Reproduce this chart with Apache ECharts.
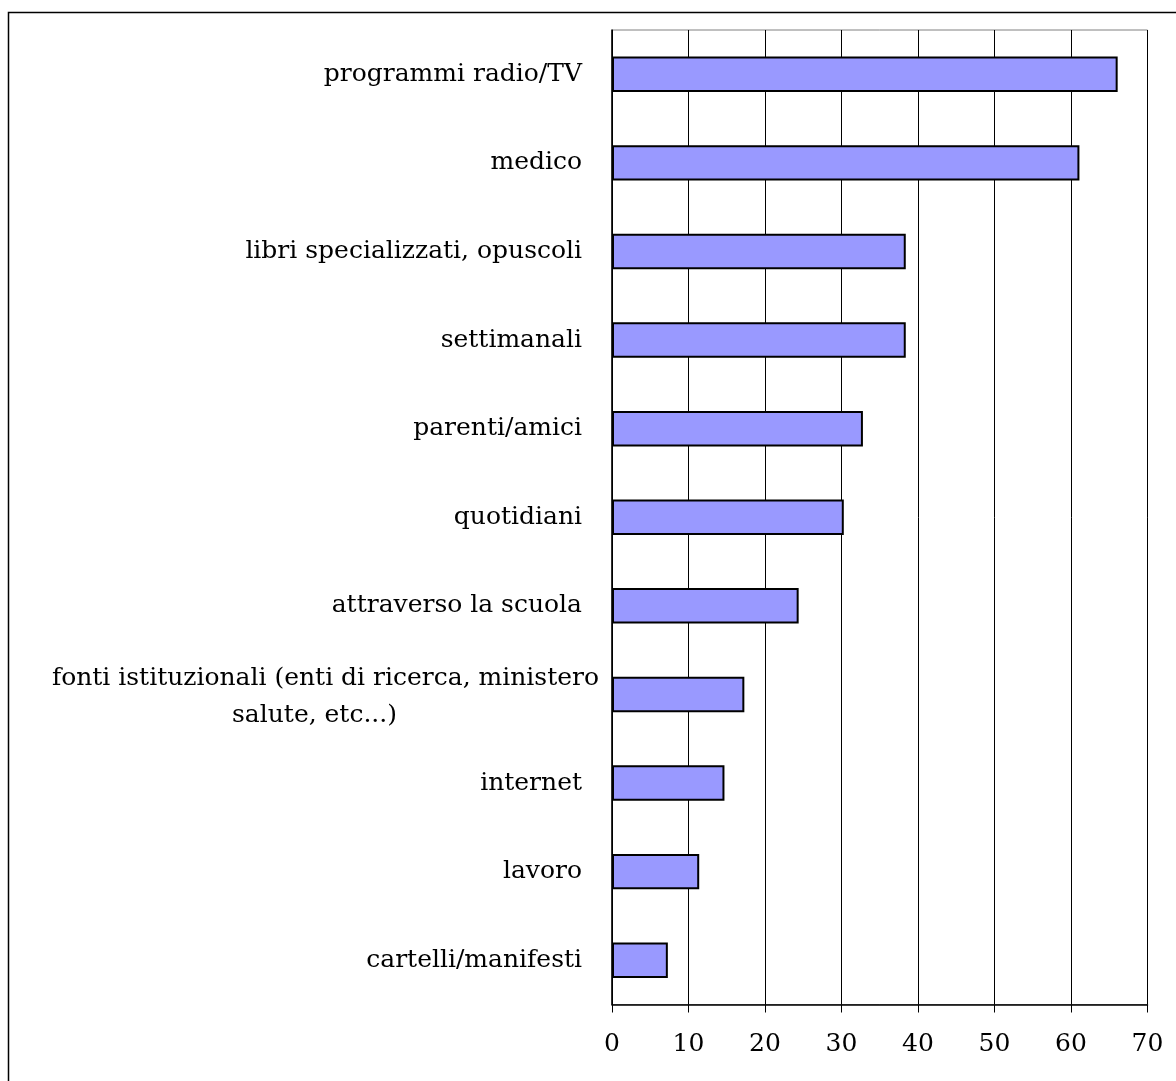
<!DOCTYPE html>
<html>
<head>
<meta charset="utf-8">
<title>Fonti di informazione</title>
<script src="https://cdn.jsdelivr.net/npm/echarts@6/dist/echarts.min.js"></script>
<style>
  html, body { margin: 0; padding: 0; background: #fff; }
  #chart { width: 1176px; height: 1081px; }
</style>
</head>
<body>
<div id="chart"></div>
<script>
// Categories listed top to bottom
const categories = [
  'programmi radio/TV',
  'medico',
  'libri specializzati, opuscoli',
  'settimanali',
  'parenti/amici',
  'quotidiani',
  'attraverso la scuola',
  'fonti istituzionali (enti di ricerca, ministero\nsalute, etc...)',
  'internet',
  'lavoro',
  'cartelli/manifesti'
];
// Percentages for each source
const values = [66.1, 61.1, 38.4, 38.4, 32.8, 30.3, 24.4, 17.3, 14.7, 11.4, 7.3];
// Value axis ticks
const xTicks = [0, 10, 20, 30, 40, 50, 60, 70];

const FONT = '"DejaVu Serif", serif';
const FS = 25;

const chart = echarts.init(document.getElementById('chart'), null, { renderer: 'canvas' });

chart.setOption({
  backgroundColor: '#fff',
  animation: false,
  graphic: [{
    type: 'rect',
    shape: { x: 8.5, y: 12.5, width: 1300, height: 1200 },
    style: { fill: 'none', stroke: '#000', lineWidth: 1.5 },
    silent: true,
    z: -10
  }],
  grid: {
    left: 612,
    top: 30,
    right: 28.5,
    bottom: 76.5,
    show: true,
    borderColor: '#808080',
    borderWidth: 1,
    containLabel: false
  },
  xAxis: {
    type: 'value',
    min: xTicks[0],
    max: xTicks[xTicks.length - 1],
    interval: 10,
    axisLine: { show: true, lineStyle: { color: '#000', width: 1.5 } },
    axisTick: { show: true, length: 8, lineStyle: { color: '#000', width: 1 } },
    axisLabel: { color: '#000', fontFamily: FONT, fontSize: FS, margin: 27 },
    splitLine: { show: true, lineStyle: { color: '#000', width: 1 } }
  },
  yAxis: {
    type: 'category',
    data: categories,
    inverse: true,
    axisLine: { show: true, lineStyle: { color: '#000', width: 1.5 } },
    axisTick: { show: false },
    splitLine: { show: false },
    axisLabel: {
      color: '#000',
      fontFamily: FONT,
      fontSize: FS,
      margin: 13,
      lineHeight: 32,
      formatter: function (v) {
        const lines = v.split('\n');
        if (lines.length > 1) {
          return '{a|' + lines[0] + '}\n{b|' + lines[1] + '}';
        }
        return '{n|' + v + '}';
      },
      rich: {
        n: { fontFamily: FONT, fontSize: FS, color: '#000', padding: [0, 17, 0, 0] },
        a: { fontFamily: FONT, fontSize: FS, color: '#000', lineHeight: 32 },
        b: { fontFamily: FONT, fontSize: FS, color: '#000', lineHeight: 32, padding: [10, 202, 0, 0] }
      }
    }
  },
  series: [{
    type: 'bar',
    data: values,
    barWidth: '40%',
    itemStyle: { color: '#9999FF', borderColor: '#000', borderWidth: 2 },
    silent: true
  }]
});
</script>
</body>
</html>
